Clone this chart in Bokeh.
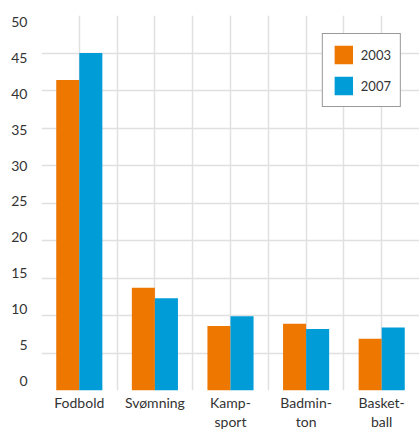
import numpy as np
from bokeh.plotting import figure
from bokeh.models import Range1d, FixedTicker, LinearAxis, Legend, LegendItem
from bokeh.embed import file_html
from bokeh.resources import INLINE

categories = ["Fodbold", "Svømning", "Kamp-\nsport", "Badmin-\nton", "Basket-\nball"]
years = ["2003", "2007"]
v2003 = [41.4, 13.7, 8.6, 8.9, 6.9]
v2007 = [45.0, 12.3, 9.9, 8.2, 8.4]
y_ticks = [0, 5, 10, 15, 20, 25, 30, 35, 40, 45, 50]

ORANGE = "#EE7700"
BLUE = "#009CD8"
TEXT = "#333333"
FONT = "Lato"

n = len(categories)
xc = np.arange(n) + 0.5
bw = 0.305

p = figure(width=419, height=432, output_backend="svg", toolbar_location=None,
           x_range=Range1d(0, n), y_range=Range1d(0, 50),
           min_border_left=41, min_border_right=0, min_border_top=15, min_border_bottom=40)
p.outline_line_color = None
p.background_fill_color = "white"

r1 = p.vbar(x=xc - bw / 2, width=bw, top=v2003, fill_color=ORANGE, line_color=None)
r2 = p.vbar(x=xc + bw / 2, width=bw, top=v2007, fill_color=BLUE, line_color=None)

# grids
p.ygrid.ticker = FixedTicker(ticks=y_ticks)
p.xgrid.ticker = FixedTicker(ticks=list(np.arange(0, n + 0.01, 0.5)))
for g in (p.xgrid, p.ygrid):
    g.grid_line_color = "#E0E0E0"
    g.grid_line_width = 1.5

# main y axis hidden; labels come from offset axis
p.yaxis.visible = False
p.extra_y_ranges = {"lab": Range1d(-1.39, 50.97)}
lab_axis = LinearAxis(y_range_name="lab", ticker=FixedTicker(ticks=y_ticks))
lab_axis.axis_line_color = None
lab_axis.major_tick_line_color = None
lab_axis.minor_tick_line_color = None
lab_axis.major_tick_out = 0
lab_axis.major_label_standoff = 14
lab_axis.major_label_text_font = FONT
lab_axis.major_label_text_font_size = "14px"
lab_axis.major_label_text_color = TEXT
p.add_layout(lab_axis, "left")

xa = p.xaxis[0]
xa.ticker = FixedTicker(ticks=list(xc))
xa.major_label_overrides = {float(x): c for x, c in zip(xc, categories)}
xa.axis_line_color = None
xa.major_tick_line_color = None
xa.minor_tick_line_color = None
xa.major_tick_out = 0
xa.major_tick_in = 0
xa.major_label_standoff = 3
xa.major_label_text_font = FONT
xa.major_label_text_font_size = "14px"
xa.major_label_text_color = TEXT
xa.major_label_text_line_height = 1.13

legend = Legend(items=[LegendItem(label=years[0], renderers=[r1]),
                       LegendItem(label=years[1], renderers=[r2])],
                location="top_right", margin=18, padding=9, spacing=8,
                glyph_width=23, glyph_height=23, label_height=23, label_standoff=6,
                label_text_font=FONT, label_text_font_size="13px", label_text_color=TEXT,
                border_line_color="#333333", border_line_width=1.5,
                background_fill_color="white", background_fill_alpha=1.0)
p.add_layout(legend)

open("out.html", "w").write(file_html(p, INLINE))
